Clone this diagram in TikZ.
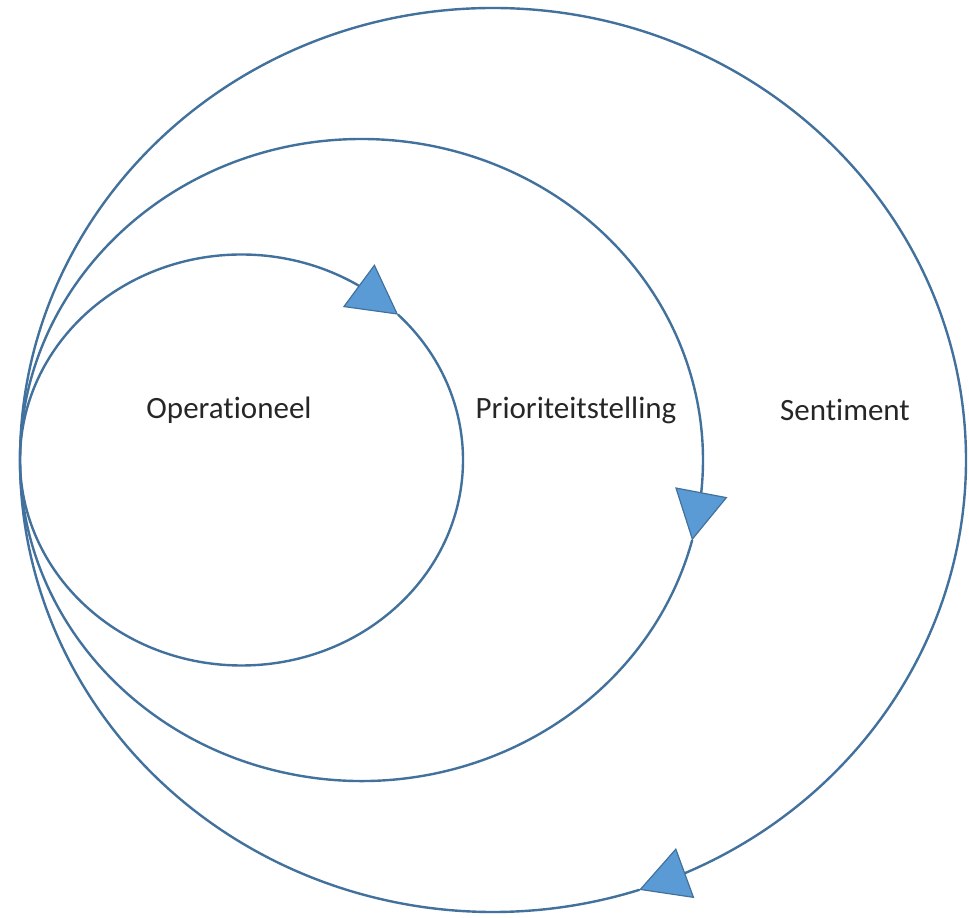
\documentclass[tikz,border=0pt]{standalone}
\usepackage{fontspec}
\setmainfont{Carlito}[Ligatures=CommonOff]
\usepackage{tikz}
\usetikzlibrary{arrows.meta, bending}
\definecolor{ringline}{HTML}{41719C}
\definecolor{ringfill}{HTML}{5B9BD5}
\definecolor{labeltext}{HTML}{262626}

\begin{document}
\begin{tikzpicture}[
			x=1pt, y=1pt,
			ring/.style={draw=ringline, line width=2.4pt},
			ringtip/.style={-{Triangle[length=49pt, width=53pt, fill=ringfill, line width=1.2pt, flex]}},
			every node/.style={font=\fontsize{31}{37}\selectfont, text=labeltext, inner sep=0pt},
			line cap=round,
			line join=round
			]
			\useasboundingbox (0,0) rectangle (969,918);
			\coordinate (touch) at (20,458);
			
			\draw[ring, ringtip] (touch) arc[start angle=180, end angle=45, x radius=221.5, y radius=205.5] coordinate (tip1);
			\draw[ring] (tip1) arc[start angle=45, end angle=-180, x radius=221.5, y radius=205.5];
			
			\draw[ring, ringtip] (touch) arc[start angle=180, end angle=-14.5, x radius=341.5, y radius=321] coordinate (tip2);
			\draw[ring] (tip2) arc[start angle=-14.5, end angle=-180, x radius=341.5, y radius=321];
			
			\draw[ring, ringtip] (touch) arc[start angle=180, end angle=-72, x radius=473, y radius=452] coordinate (tip3);
			\draw[ring] (tip3) arc[start angle=-72, end angle=-180, x radius=473, y radius=452];
			
			\node (operationeel) at (229,508) {Operationeel};
			\node (prioriteit) at (576,508) {Prioriteitstelling};
			\node (sentiment) at (845,508) {Sentiment};
		\end{tikzpicture}
\end{document}
